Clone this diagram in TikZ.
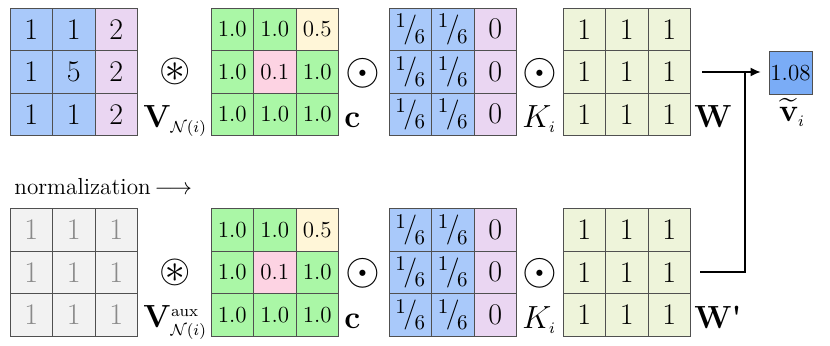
\RequirePackage{fix-cm}
\documentclass[tikz,border=0pt]{standalone}
\usepackage{amsmath,amssymb}
\usepackage{graphicx}
\usetikzlibrary{arrows.meta}
\definecolor{cbl}{HTML}{A9C9FA}
\definecolor{cpu}{HTML}{EAD6F2}
\definecolor{cgr}{HTML}{AAF7A6}
\definecolor{cye}{HTML}{FFF6D8}
\definecolor{cpk}{HTML}{FDD3E3}
\definecolor{col}{HTML}{EEF4DA}
\definecolor{cgy}{HTML}{F2F2F2}
\definecolor{gtxt}{HTML}{8A8A8A}
\definecolor{cout}{HTML}{7AACF6}
\definecolor{gridc}{HTML}{505050}
\newcommand\bigfnt{\fontsize{15}{17}\selectfont}
\newcommand\decfnt{\fontsize{11.5}{13}\selectfont}
\newcommand\labfnt{\fontsize{16}{18}\selectfont}
\newcommand\opfnt{\fontsize{12.44}{14}\selectfont}
\newcommand\sixth{\raisebox{0.31em}{\fontsize{10.5}{10.5}\selectfont 1}\kern-0.08em/\kern-0.08em\raisebox{-0.22em}{\fontsize{10.5}{10.5}\selectfont 6}}
\newcommand\gone{{\color{gtxt}1}}
\newcommand\cast{\scalebox{1.62}{$\circledast$}}
\newcommand\cdt{\scalebox{1.8}{$\odot$}}
\newcommand\mymat[5]{%
  \foreach \col/\txt [count=\k from 0] in {#5} {%
    \pgfmathtruncatemacro\rr{\k/3}%
    \pgfmathtruncatemacro\cc{\k-3*\rr}%
    \node[cellbox, fill=\col, font=#4] (#1-\rr-\cc) at ({#2+42.5*\cc+21.25},{#3+42.5*\rr+21.25}) {\txt};
  }}
\tikzset{
  cellbox/.style={draw=gridc, line width=0.35pt, minimum size=21.25pt, inner sep=0pt},
  lab/.style={inner sep=0pt, font=\labfnt, anchor=base west},
  opsym/.style={inner sep=0pt, font=\opfnt},
  conn/.style={line width=0.8pt, black},
}
\begin{document}
\begin{tikzpicture}[x=0.5pt,y=-0.5pt]
\useasboundingbox[fill=white] (0,0) rectangle (830,346);
% top row
\mymat{va}{10}{8}{\bigfnt}{cbl/1,cbl/1,cpu/2,cbl/1,cbl/5,cpu/2,cbl/1,cbl/1,cpu/2}
\mymat{ca}{211}{8}{\decfnt}{cgr/1.0,cgr/1.0,cye/0.5,cgr/1.0,cpk/0.1,cgr/1.0,cgr/1.0,cgr/1.0,cgr/1.0}
\mymat{ka}{389}{8}{\bigfnt}{cbl/\sixth,cbl/\sixth,cpu/0,cbl/\sixth,cbl/\sixth,cpu/0,cbl/\sixth,cbl/\sixth,cpu/0}
\mymat{wa}{563}{8}{\bigfnt}{col/1,col/1,col/1,col/1,col/1,col/1,col/1,col/1,col/1}
% bottom row
\mymat{vb}{10}{208.5}{\bigfnt}{cgy/\gone,cgy/\gone,cgy/\gone,cgy/\gone,cgy/\gone,cgy/\gone,cgy/\gone,cgy/\gone,cgy/\gone}
\mymat{cb}{211}{208.5}{\decfnt}{cgr/1.0,cgr/1.0,cye/0.5,cgr/1.0,cpk/0.1,cgr/1.0,cgr/1.0,cgr/1.0,cgr/1.0}
\mymat{kb}{389}{208.5}{\bigfnt}{cbl/\sixth,cbl/\sixth,cpu/0,cbl/\sixth,cbl/\sixth,cpu/0,cbl/\sixth,cbl/\sixth,cpu/0}
\mymat{wb}{563}{208.5}{\bigfnt}{col/1,col/1,col/1,col/1,col/1,col/1,col/1,col/1,col/1}
% operators
\node[opsym] (o1) at (175,71) {\cast};
\node[opsym] (o2) at (363,73) {\cdt};
\node[opsym] (o3) at (540,73) {\cdt};
\node[opsym] (o4) at (175,272) {\cast};
\node[opsym] (o5) at (363,273) {\cdt};
\node[opsym] (o6) at (540,273) {\cdt};
% labels
\node[lab] (lva) at (143,128) {$\mathbf{V}_{\scriptscriptstyle\mathcal{N}(i)}$};
\node[lab] (lca) at (344,128) {$\mathbf{c}$};
\node[lab] (lka) at (522,128) {$K_{\scriptscriptstyle i}$};
\node[lab] (lwa) at (694,128) {$\mathbf{W}$};
\node[lab] (lvb) at (143,328) {$\mathbf{V}^{\scriptscriptstyle\mathrm{aux}}_{\scriptscriptstyle\mathcal{N}(i)}$};
\node[lab] (lcb) at (344,328.5) {$\mathbf{c}$};
\node[lab] (lkb) at (522,328.5) {$K_{\scriptscriptstyle i}$};
\node[lab] (lwb) at (694,328.5) {\textbf{W\textquotesingle}};
\node[lab, anchor=base west, font=\fontsize{11.6}{14}\selectfont] (norm) at (14,195) {normalization\,$\longrightarrow$};
% output
\node[cellbox, fill=cout, minimum size=21.5pt, font=\decfnt] (out) at (790.5,73) {1.08};
\node[lab, anchor=base] (lout) at (792,122) {$\widetilde{\mathbf{v}}_{\scriptscriptstyle i}$};
% connectors
\coordinate (s1) at (702,72);
\coordinate (s2) at (700,272);
\coordinate (jn) at (745,72);
\draw[conn, -{Latex[length=5pt,width=4.5pt]}, shorten >=4pt] (s1) -- (s1 -| out.west);
\draw[conn] (s2) -| (jn);
\end{tikzpicture}
\end{document}
